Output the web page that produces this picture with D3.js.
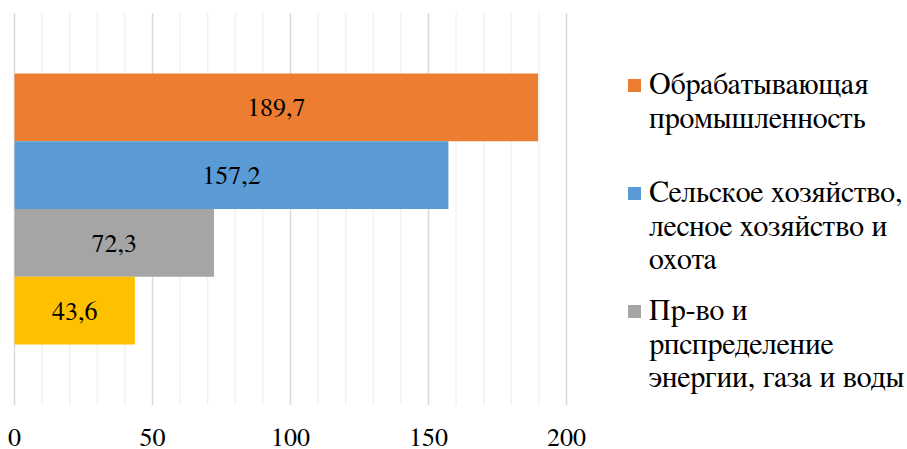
<!DOCTYPE html>
<html>
<head>
<meta charset="utf-8">
<script src="https://cdn.jsdelivr.net/npm/d3@7"></script>
<style>
body { margin: 0; background: #fff; }
</style>
</head>
<body>
<svg width="907" height="449"></svg>
<script>
var series = ["Обрабатывающая промышленность", "Сельское хозяйство, лесное хозяйство и охота", "Пр-во и рпспределение энергии, газа и воды", "Строительство"];
var values = [189.7, 157.2, 72.3, 43.6];
var colors = ["#ED7D31", "#5B9BD5", "#A5A5A5", "#FFC000"];
var ticks = [0, 50, 100, 150, 200];
var legendLines = [
    ["Обрабатывающая", "промышленность"],
    ["Сельское хозяйство,", "лесное хозяйство и", "охота"],
    ["Пр-во и", "рпспределение", "энергии, газа и воды"]
];

var font = "FreeSerif";
var svg = d3.select("svg");
var plotTop = 13, plotBottom = 405;

var xScale = d3.scaleLinear().domain([0, 200]).range([14.5, 566.5]);
var yScale = d3.scaleBand().domain(series).range([plotTop, plotBottom]).paddingInner(0).paddingOuter(0.893);

var g = svg.append("g");

// gridlines every 10, darker every 50
g.selectAll(".grid")
    .data(d3.range(0, 201, 10))
    .enter().append("line")
    .attr("x1", function (d) { return xScale(d); })
    .attr("x2", function (d) { return xScale(d); })
    .attr("y1", plotTop).attr("y2", plotBottom)
    .attr("stroke", function (d) { return d % 50 === 0 ? "#d9d9d9" : "#f0f0f0"; })
    .attr("stroke-width", function (d) { return d % 50 === 0 ? 1.5 : 1.3; });

//bars
g.selectAll(".bar")
    .data(series)
    .enter().append("rect")
    .attr("x", xScale(0))
    .attr("y", function (d) { return yScale(d); })
    .attr("width", function (d, i) { return xScale(values[i]) - xScale(0); })
    .attr("height", yScale.bandwidth())
    .attr("fill", function (d, i) { return colors[i]; });

//value labels
g.selectAll(".lbl")
    .data(series)
    .enter().append("text")
    .attr("x", function (d, i) { return (xScale(0) + xScale(values[i])) / 2; })
    .attr("y", function (d) { return yScale(d) + yScale.bandwidth() / 2 + 9; })
    .attr("text-anchor", "middle")
    .style("font-family", font)
    .style("font-size", "26px")
    .text(function (d, i) { return String(values[i]).replace(".", ","); });

//x axis labels
g.selectAll(".tick")
    .data(ticks)
    .enter().append("text")
    .attr("x", function (d) { return xScale(d); })
    .attr("y", 446)
    .attr("text-anchor", "middle")
    .style("font-family", font)
    .style("font-size", "26px")
    .text(function (d) { return d; });

//legend
var legendY = [94, 202, 320];
var leg = svg.selectAll(".leg")
    .data(legendLines)
    .enter().append("g")
    .attr("transform", function (d, i) { return "translate(628," + legendY[i] + ")"; });

leg.append("rect")
    .attr("x", 0).attr("y", -15)
    .attr("width", 13).attr("height", 13)
    .attr("fill", function (d, i) { return colors[i]; });

leg.append("text")
    .style("font-family", font)
    .style("font-size", "30px")
    .selectAll("tspan")
    .data(function (d) { return d; })
    .enter().append("tspan")
    .attr("x", 21)
    .attr("y", function (d, j) { return j * 33.5; })
    .text(function (d) { return d; });
</script>
</body>
</html>
